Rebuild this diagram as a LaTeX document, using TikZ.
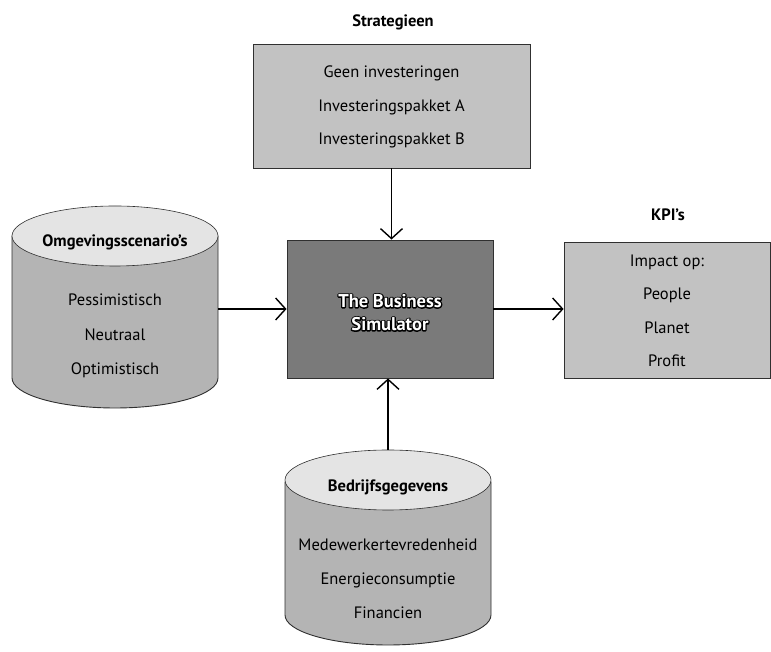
\documentclass[tikz,border=0pt]{standalone}
\usepackage{fontspec}
\setmainfont{PT Sans}
\usetikzlibrary{arrows.meta}
\definecolor{boxgray}{HTML}{C2C2C2}
\definecolor{bodygray}{HTML}{B4B4B4}
\definecolor{topgray}{HTML}{E4E4E4}
\definecolor{simgray}{HTML}{7A7A7A}
\definecolor{edge}{HTML}{303030}
\newcommand\strokedtext[1]{\special{pdf:literal direct 1 Tr 2.4 w 1 j 0 G}#1\special{pdf:literal direct 0 Tr}}
\begin{document}
\begin{tikzpicture}[x=1pt,y=1pt,
  lbl/.style={font=\fontsize{16.5}{18}\selectfont},
  ttl/.style={font=\fontsize{16.5}{18}\selectfont\bfseries},
  simtxt/.style={font=\fontsize{18.5}{20}\selectfont\bfseries,text=white},
  simline/.style={font=\fontsize{18.5}{20}\selectfont\bfseries,text=black},
  grbox/.style={draw=edge,line width=0.9pt,fill=boxgray,inner sep=0pt},
  arr/.style={line width=1.2pt,-{Straight Barb[length=10pt,width=22pt,line width=1.4pt]}},
  ghost/.style={inner sep=0pt}]
\useasboundingbox[fill=white] (0,0) rectangle (771,652);

% top box
\node[grbox,minimum width=277pt,minimum height=124pt] (strat) at (391.5,546) {};
\node[ttl] (stratT) at (393,630) {Strategieen};
\node[lbl] (s1) at (391.5,579) {Geen investeringen};
\node[lbl] (s2) at (391.5,545) {Investeringspakket A};
\node[lbl] (s3) at (391.5,512) {Investeringspakket B};

% simulator
\node[draw=edge,line width=0.9pt,fill=simgray,minimum width=206pt,minimum height=138pt,inner sep=0pt] (sim) at (390,343) {};
\node[simline] (simAo) at (390,351) {\strokedtext{The Business}};
\node[simline] (simBo) at (390,328) {\strokedtext{Simulator}};
\node[simtxt] (simA) at (390,351) {The Business};
\node[simtxt] (simB) at (390,328) {Simulator};

% KPI box
\node[grbox,minimum width=206pt,minimum height=136pt] (kpi) at (667,342) {};
\node[ttl] (kpiT) at (668,437) {KPI's};
\node[lbl] (k1) at (667,390) {Impact op:};
\node[lbl] (k2) at (667,357) {People};
\node[lbl] (k3) at (667,324) {Planet};
\node[lbl] (k4) at (667,291) {Profit};

% left cylinder
\node[ghost,minimum width=206pt,minimum height=200pt] (lcyl) at (115,344) {};
\filldraw[fill=bodygray,draw=edge,line width=0.9pt] (12,416) -- (12,274) arc[start angle=180,end angle=360,x radius=103pt,y radius=30pt] -- (218,416) -- cycle;
\filldraw[fill=topgray,draw=edge,line width=0.6pt] (115,416) ellipse[x radius=103pt,y radius=30pt];
\node[ttl] (lT) at (115,410) {Omgevingsscenario's};
\node[lbl] (l1) at (115,352) {Pessimistisch};
\node[lbl] (l2) at (115,317) {Neutraal};
\node[lbl] (l3) at (115,282) {Optimistisch};

% bottom cylinder
\node[ghost,minimum width=206pt,minimum height=195pt] (bcyl) at (388,104.5) {};
\filldraw[fill=bodygray,draw=edge,line width=0.9pt] (285,170) -- (285,37) arc[start angle=180,end angle=360,x radius=103pt,y radius=30pt] -- (491,170) -- cycle;
\filldraw[fill=topgray,draw=edge,line width=0.6pt] (388,172) ellipse[x radius=103pt,y radius=30pt];
\node[ttl] (bT) at (388,165) {Bedrijfsgegevens};
\node[lbl] (b1) at (388,107) {Medewerkertevredenheid};
\node[lbl] (b2) at (388,72) {Energieconsumptie};
\node[lbl] (b3) at (388,39) {Financien};

% connectors
\draw[arr] (strat.south) -- (strat.south |- sim.north);
\draw[arr] (lcyl.east |- sim.west) -- (sim.west);
\draw[arr] (sim.east) -- (kpi.west |- sim.east);
\draw[arr] (bcyl.north) -- (bcyl.north |- sim.south);
\end{tikzpicture}
\end{document}
